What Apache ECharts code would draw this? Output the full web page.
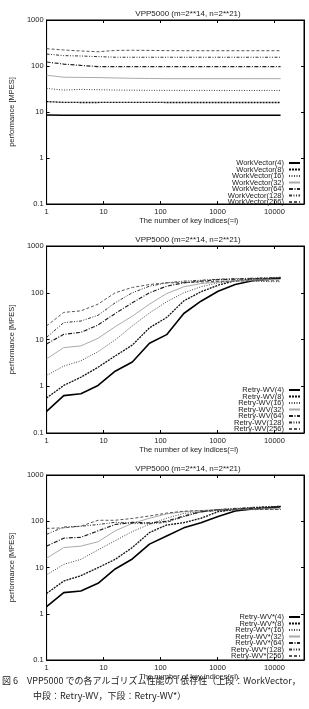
<!DOCTYPE html>
<html><head><meta charset="utf-8">
<script src="https://cdn.jsdelivr.net/npm/echarts@6/dist/echarts.min.js"></script>
<style>html,body{margin:0;padding:0;background:#fff}#c{width:309px;height:709px}</style>
</head><body><div id="c"></div>
<script>
const xVals = [1,2,4,8,16,32,64,128,256,512,1024,2048,4096,8192,12800];
const xTicks = [1,10,100,1000,10000];
const yTicks = [0.1,1,10,100,1000];
const titleText = 'VPP5000 (m=2**14, n=2**21)';
const xName = 'The number of key indices(=l)';
const yName = 'performance [MPES]';

const wvNames = ['WorkVector(4)','WorkVector(8)','WorkVector(16)','WorkVector(32)','WorkVector(64)','WorkVector(128)','WorkVector(256)'];
const wv4 = [8.6,8.5,8.5,8.5,8.5,8.5,8.5,8.5,8.5,8.5,8.5,8.5,8.5,8.5,8.5];
const wv8 = [16.8,16.2,16.1,16.1,16.2,16.2,16.2,16.1,16.1,16.1,16.1,16.1,16.1,16.1,16.1];
const wv16 = [32.5,30,31,30.5,30,29.8,29.6,29.5,29.5,29.5,29.4,29.4,29.4,29.4,29.4];
const wv32 = [63,57,56.5,56,55,54,53.5,53,53,53,53,53,53,53,53];
const wv64 = [122,110,103,97,97,97,97,97,97,97,97,97,97,97,97];
const wv128 = [182,168,165,160,155,155,155,155,155,155,155,155,155,155,155];
const wv256 = [238,223,212,204,218,220,218,216,215,215,215,215,215,215,215];

const rNames = ['Retry-WV(4)','Retry-WV(8)','Retry-WV(16)','Retry-WV(32)','Retry-WV(64)','Retry-WV(128)','Retry-WV(256)'];
const r4 = [0.29,0.63,0.69,1.04,2.1,3.3,8.3,12.7,36,66,108,150,180,195,205];
const r8 = [0.56,1.04,1.56,2.55,4.45,7.6,17.8,29.5,67,105,145,180,195,200,205];
const r16 = [1.7,2.7,3.5,5.5,9.8,19.5,37,64,100,134,163,180,178,173,172];
const r32 = [3.85,6.7,7.3,10.6,18.8,31.6,57,96,134,157,170,180,185,190,190];
const r64 = [8.0,12.9,14.2,20.4,36,61,100,138,163,177,190,195,200,205,210];
const r128 = [11.1,23,24.8,33,61,100,138,163,177,185,195,200,205,210,215];
const r256 = [19.5,38,41,57,100,130,150,163,165,170,175,178,180,180,180];

const sNames = ['Retry-WV*(4)','Retry-WV*(8)','Retry-WV*(16)','Retry-WV*(32)','Retry-WV*(64)','Retry-WV*(128)','Retry-WV*(256)'];
const s4 = [1.42,2.86,3.1,4.55,9.3,15.3,32,48,72,93,126,166,184,196,207];
const s8 = [2.75,5.1,6.65,9.9,15,27,57,83,93,116,161,180,195,205,210];
const s16 = [6.9,11.7,15,24,38,60,86,116,148,160,170,175,178,180,180];
const s32 = [15.8,27,29,36,62,90,116,144,161,170,178,182,185,188,190];
const s64 = [29,43,45,62,85,95,92,100,130,160,175,185,190,195,200];
const s128 = [52,75,78,85,95,90,88,95,125,160,180,190,200,205,210];
const s256 = [70,72,78,105,105,115,130,150,165,170,175,178,180,180,180];

const captionLines = ['図 6　VPP5000 での各アルゴリズム性能の l 依存性（上段：WorkVector，', '中段：Retry-WV，下段：Retry-WV*）'];

const FONT = '"Liberation Sans", Arial, sans-serif';
const styles = [
  {color:'#000', width:1.6, type:'solid'},
  {color:'#111', width:1.3, type:[2,1]},
  {color:'#444', width:1, type:[1,1.5]},
  {color:'#aaa', width:1, type:'solid'},
  {color:'#222', width:1.2, type:[4,1.5,1,1.5]},
  {color:'#333', width:1, type:[3,1.5,1,1.5,1,1.5]},
  {color:'#555', width:1, type:[3,2]}
];

const panels = [
  {names: wvNames, data: [wv4,wv8,wv16,wv32,wv64,wv128,wv256], top: 20, height: 184, legendTop: 159},
  {names: rNames, data: [r4,r8,r16,r32,r64,r128,r256], top: 246, height: 187, legendTop: 386},
  {names: sNames, data: [s4,s8,s16,s32,s64,s128,s256], top: 475, height: 185, legendTop: 613}
];

const GL = 35, GR = 5;
const xMin = 1, xMax = 33000, yMin = 0.1, yMax = 1000;
const fmtX = v => xTicks.indexOf(Math.round(v)) >= 0 ? String(Math.round(v)) : '';
const fmtY = v => { for (const t of yTicks) if (Math.abs(v - t) / t < 1e-6) return String(t); return ''; };

const option = {
  animation: false,
  backgroundColor: '#fff',
  title: [], grid: [], xAxis: [], yAxis: [], legend: [], series: [],
  graphic: captionLines.map((t, i) => ({
    type: 'text', left: i === 0 ? 2 : 33, top: 676 + i * 15,
    style: {text: t, fontSize: 9, fill: '#222', fontFamily: '"Noto Sans CJK JP", sans-serif'}
  }))
};

panels.forEach((p, k) => {
  option.title.push({text: titleText, left: 183, top: p.top - 15, textAlign: 'center',
    textStyle: {fontSize: 8, fontWeight: 'normal', color: '#222', fontFamily: FONT}});
  option.grid.push({left: GL, right: GR, top: p.top, height: p.height, show: true, borderColor: '#000', borderWidth: 1, containLabel: false});
  const axCommon = {axisLine: {show: true, lineStyle: {color: '#000', width: 1}}, splitLine: {show: false},
    axisTick: {show: true, inside: true, length: 3, lineStyle: {color: '#000'}}};
  option.xAxis.push(Object.assign({}, axCommon, {type: 'log', logBase: 10, min: xMin, max: xMax, gridIndex: k,
    name: xName, nameLocation: 'middle', nameGap: 12,
    nameTextStyle: {fontSize: 7.5, color: '#222', fontFamily: FONT, padding: [0, 0, 0, 27]},
    axisLabel: {formatter: fmtX, fontSize: 7.5, color: '#222', margin: 4, fontFamily: FONT}}));
  option.xAxis.push(Object.assign({}, axCommon, {type: 'log', logBase: 10, min: xMin, max: xMax, gridIndex: k, position: 'top',
    axisLabel: {show: false}}));
  option.yAxis.push(Object.assign({}, axCommon, {type: 'log', logBase: 10, min: yMin, max: yMax, gridIndex: k,
    name: yName, nameLocation: 'middle', nameGap: 27,
    nameTextStyle: {fontSize: 7.5, color: '#222', fontFamily: FONT},
    axisLabel: {formatter: fmtY, fontSize: 7.5, color: '#222', margin: 3, fontFamily: FONT}}));
  option.yAxis.push(Object.assign({}, axCommon, {type: 'log', logBase: 10, min: yMin, max: yMax, gridIndex: k, position: 'right',
    axisLabel: {show: false}}));
  option.legend.push({data: p.names, orient: 'vertical', align: 'right', right: 8, top: p.legendTop, padding: 0,
    itemGap: -1.5, itemWidth: 11, itemHeight: 6, itemStyle: {opacity: 0},
    textStyle: {fontSize: 7.5, lineHeight: 6, color: '#222', fontFamily: FONT}});
  p.names.forEach((n, i) => {
    option.series.push({type: 'line', name: n, xAxisIndex: 2 * k, yAxisIndex: 2 * k, symbol: 'none', showSymbol: false,
      data: xVals.map((x, j) => [x, p.data[i][j]]),
      lineStyle: {color: styles[i].color, width: styles[i].width, type: styles[i].type},
      itemStyle: {color: styles[i].color}});
  });
});

const chart = echarts.init(document.getElementById('c'), null, {renderer: 'canvas'});
chart.setOption(option);
</script></body></html>
